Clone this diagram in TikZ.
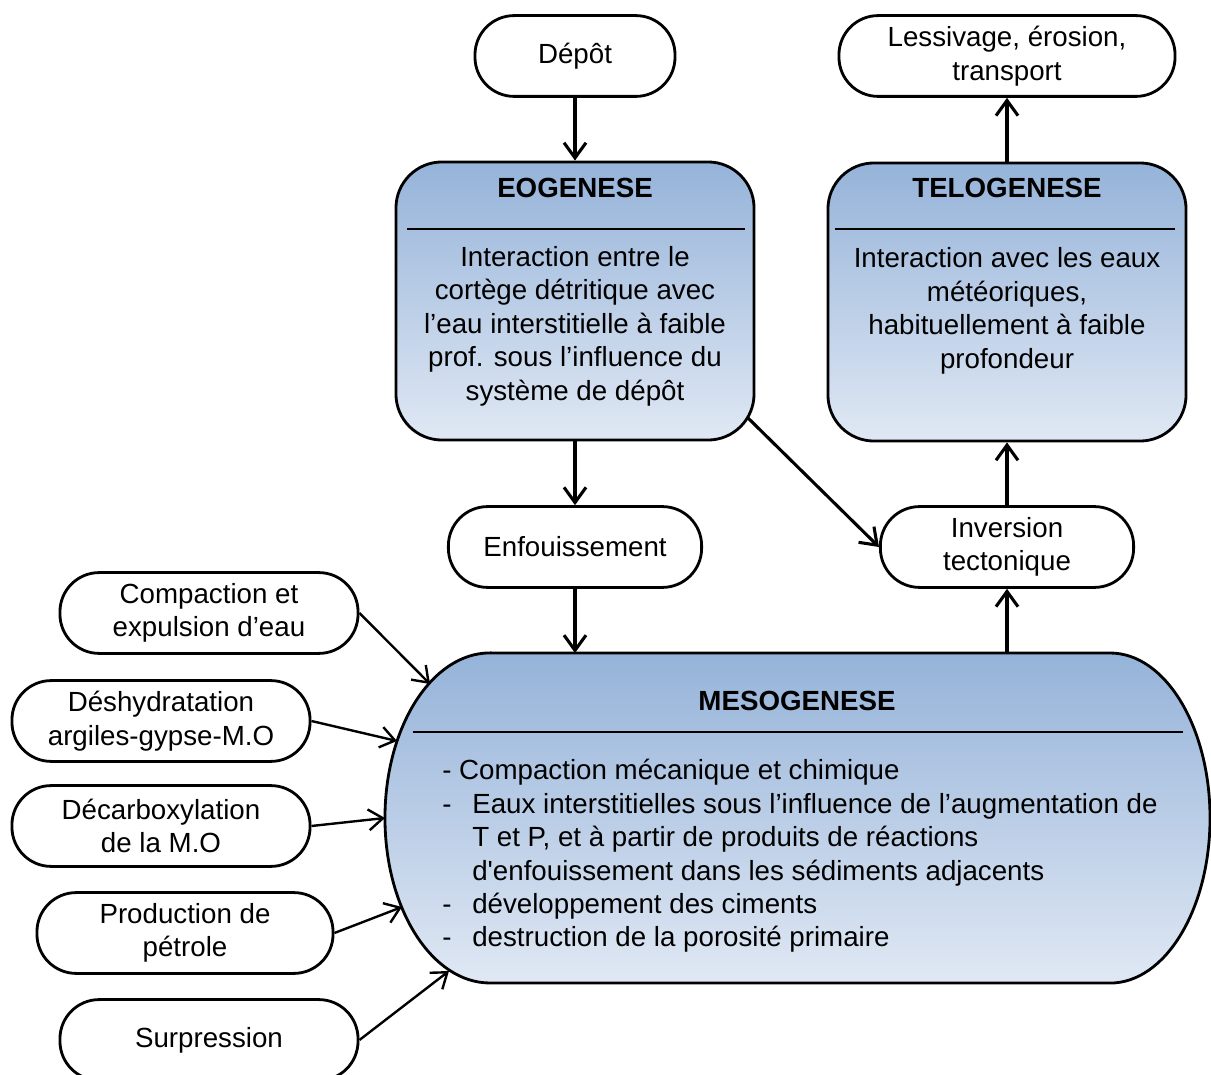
\documentclass[tikz,border=0pt]{standalone}
\usepackage{fontspec}
\setmainfont{Liberation Sans}
\usetikzlibrary{arrows.meta}

\definecolor{bleuhaut}{RGB}{149,179,217}
\definecolor{bleubas}{RGB}{224,232,244}

\newcommand{\tiret}{\makebox[0.75cm][l]{-}}

\begin{document}
\begin{tikzpicture}[x=0.025cm, y=-0.025cm,
	every node/.style={font=\fontsize{19.7}{23.8}\selectfont},
	pill/.style={draw, line width=2pt, fill=white, rounded corners=0.98cm, align=center, inner sep=0pt, minimum height=2.02cm},
	phase/.style={draw, line width=2pt, rounded corners=1.15cm, top color=bleuhaut, bottom color=bleubas, inner sep=0pt, minimum width=8.95cm, minimum height=6.95cm},
	titre/.style={font=\fontsize{19.7}{23.8}\selectfont\bfseries},
	texte/.style={align=center, inner sep=0pt},
	fleche/.style={line width=2.2pt, -{Straight Barb[length=3.8mm,width=5.5mm]}},
	flechefine/.style={line width=1.7pt, -{Straight Barb[length=3.6mm,width=5.2mm]}}]
	\useasboundingbox (0,0) rectangle (1211,1075);

	\node[pill, minimum width=5cm] (depot) at (575,56) {Dépôt};
	\node[pill, minimum width=8.4cm] (lessiv) at (1007,56) {Lessivage, érosion,\\transport};

	\node[phase] (eo) at (575,301) {};
	\node[titre] (eotitre) at (575,188) {EOGENESE};
	\draw[line width=2pt] (407,229) -- (745,229);
	\node[texte] (eotexte) at (575,326) {Interaction entre le\\cortège détritique avec\\l’eau interstitielle à faible\\prof. sous l’influence du\\système de dépôt};

	\node[phase] (telo) at (1007,302) {};
	\node[titre] (telotitre) at (1007,188) {TELOGENESE};
	\draw[line width=2pt] (835,229) -- (1175,229);
	\node[texte] (telotexte) at (1007,311) {Interaction avec les eaux\\météoriques,\\habituellement à faible\\profondeur};

	\node[pill, minimum width=6.33cm] (enf) at (575,547) {Enfouissement};
	\node[pill, minimum width=6.33cm] (inv) at (1007,547) {Inversion\\tectonique};

	% bloc mesogenese
	\draw[line width=2pt, top color=bleuhaut, bottom color=bleubas] (490,653) -- (1110,653) arc[start angle=90, end angle=-90, x radius=2.5cm, y radius=4.125cm] -- (490,983) arc[start angle=270, end angle=90, x radius=2.625cm, y radius=4.125cm] -- cycle;
	\node[titre] (mesotitre) at (797,701) {MESOGENESE};
	\draw[line width=2pt] (413,732) -- (1183,732);
	\node[align=left, inner sep=0pt, anchor=west] (mesotexte) at (442,856) {- Compaction mécanique et chimique\\\tiret Eaux interstitielles sous l’influence de l’augmentation de\\\hspace*{0.75cm}T et P, et à partir de produits de réactions\\\hspace*{0.75cm}d\textquotesingle enfouissement dans les sédiments adjacents\\\tiret développement des ciments\\\tiret destruction de la porosité primaire};

	\node[pill, minimum width=7.45cm] (comp) at (209,613) {Compaction et\\expulsion d’eau};
	\node[pill, minimum width=7.45cm] (desh) at (161,721) {Déshydratation\\argiles-gypse-M.O};
	\node[pill, minimum width=7.45cm] (decarb) at (161,826) {Décarboxylation\\de la M.O};
	\node[pill, minimum width=7.4cm] (prod) at (185,933) {Production de\\pétrole};
	\node[pill, minimum width=7.45cm] (surp) at (209,1040) {Surpression};

	\coordinate (eocoin) at (747,417);
	\coordinate (mesoenf) at (575,653);
	\coordinate (mesoinv) at (1007,653);
	\coordinate (m1) at (430,684);
	\coordinate (m2) at (397,741);
	\coordinate (m3) at (385,818);
	\coordinate (m4) at (402,907);
	\coordinate (m5) at (449,971);

	\draw[fleche] (depot) -- (eo);
	\draw[fleche] (eo) -- (enf);
	\draw[fleche] (enf) -- (mesoenf);
	\draw[fleche] (eocoin) -- (inv.west);
	\draw[fleche] (mesoinv) -- (inv);
	\draw[fleche] (inv) -- (telo);
	\draw[fleche] (telo) -- (lessiv);

	\draw[flechefine] (comp.east) -- (m1);
	\draw[flechefine] (desh.east) -- (m2);
	\draw[flechefine] (decarb.east) -- (m3);
	\draw[flechefine] (prod.east) -- (m4);
	\draw[flechefine] (surp.east) -- (m5);
\end{tikzpicture}
\end{document}
